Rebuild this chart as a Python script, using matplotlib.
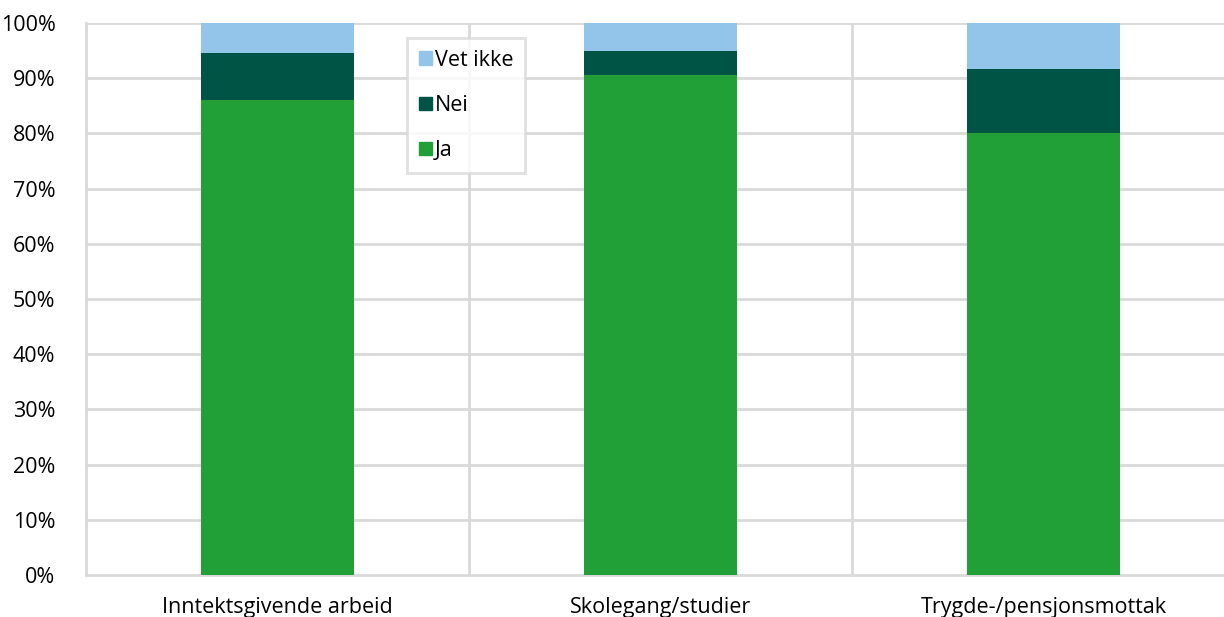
import matplotlib
matplotlib.use("Agg")
import matplotlib.pyplot as plt
from matplotlib.patches import Patch

plt.rcParams['font.family'] = ['Open Sans', 'DejaVu Sans']

categories = ["Inntektsgivende arbeid", "Skolegang/studier", "Trygde-/pensjonsmottak"]
ja = [86.1, 90.6, 80.0]
nei = [8.5, 4.4, 11.7]
vet_ikke = [5.4, 5.0, 8.3]
yticks = [0, 10, 20, 30, 40, 50, 60, 70, 80, 90, 100]

c_ja = "#21A038"
c_nei = "#005445"
c_vet = "#93C5EB"
grid_c = "#D9D9D9"
fs = 15.5

fig = plt.figure(figsize=(12.24, 6.17), dpi=100)
ax = fig.add_axes([86/1224, 42/617, (1235-86)/1224, (575-23)/617])

x = list(range(len(categories)))
w = 0.4
ax.bar(x, ja, width=w, color=c_ja, label="Ja", zorder=3)
bot2 = [a for a in ja]
ax.bar(x, nei, width=w, bottom=bot2, color=c_nei, label="Nei", zorder=3)
bot3 = [a + b for a, b in zip(ja, nei)]
ax.bar(x, vet_ikke, width=w, bottom=bot3, color=c_vet, label="Vet ikke", zorder=3)

ax.set_xlim(-0.5, len(categories) - 0.5)
ax.set_ylim(0, 100)
ax.set_yticks(yticks)
ax.set_yticklabels([f"{v}%" for v in yticks], fontsize=fs, color="#000000")
ax.tick_params(axis='y', length=0, pad=22)

ax.set_xticks(x)
ax.set_xticklabels(categories, fontsize=fs)
ax.tick_params(axis='x', length=0, pad=16)

for v in yticks[1:]:
    ax.axhline(v, color=grid_c, lw=2, zorder=1)
for b in [0.5, 1.5]:
    ax.axvline(b, color=grid_c, lw=2, zorder=1)

for s in ['top', 'right']:
    ax.spines[s].set_visible(False)
ax.spines['left'].set_color(grid_c)
ax.spines['left'].set_linewidth(2)
ax.spines['bottom'].set_color(grid_c)
ax.spines['bottom'].set_linewidth(2)

handles = [Patch(color=c_vet, label="Vet ikke"), Patch(color=c_nei, label="Nei"), Patch(color=c_ja, label="Ja")]
leg = ax.legend(handles=handles, loc='upper left', bbox_to_anchor=((407-86)/1149, (575-38)/552),
                fontsize=fs, frameon=True, fancybox=False, edgecolor=grid_c,
                handlelength=0.6, handleheight=0.6, handletextpad=0.15,
                labelspacing=1.12, borderpad=0.55, borderaxespad=0)
leg.get_frame().set_linewidth(2)
leg.set_zorder(5)

fig.savefig("out.png", dpi=100, facecolor="white")
